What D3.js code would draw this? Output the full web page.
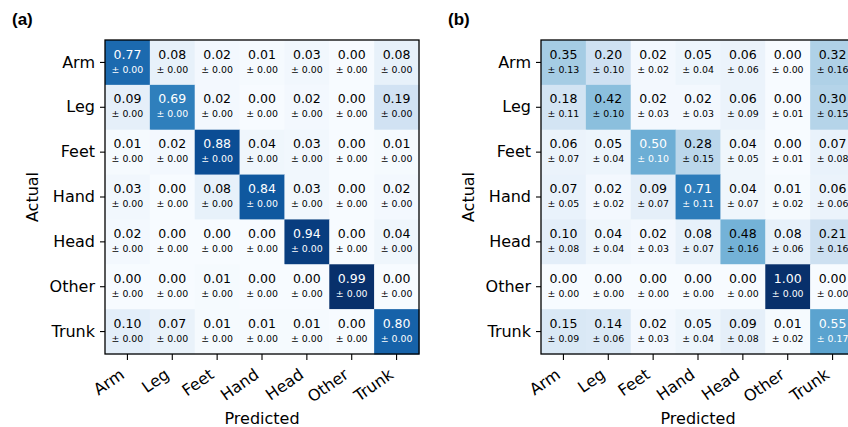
<!DOCTYPE html>
<html>
<head>
<meta charset="utf-8">
<script src="https://cdn.jsdelivr.net/npm/d3@7"></script>
<style>
  html, body { margin: 0; padding: 0; background: #fff; }
  svg { display: block; }
  text { font-family: "DejaVu Sans", sans-serif; }
</style>
</head>
<body>
<svg id="chart" width="848" height="427"></svg>
<script>
// Class labels shared by both confusion matrices
const classes = ["Arm", "Leg", "Feet", "Hand", "Head", "Other", "Trunk"];

// Panel (a): mean normalized confusion (rows = actual, columns = predicted)
const meanA = [
  [0.77, 0.08, 0.02, 0.01, 0.03, 0.00, 0.08],
  [0.09, 0.69, 0.02, 0.00, 0.02, 0.00, 0.19],
  [0.01, 0.02, 0.88, 0.04, 0.03, 0.00, 0.01],
  [0.03, 0.00, 0.08, 0.84, 0.03, 0.00, 0.02],
  [0.02, 0.00, 0.00, 0.00, 0.94, 0.00, 0.04],
  [0.00, 0.00, 0.01, 0.00, 0.00, 0.99, 0.00],
  [0.10, 0.07, 0.01, 0.01, 0.01, 0.00, 0.80]
];
const stdA = [
  [0.00, 0.00, 0.00, 0.00, 0.00, 0.00, 0.00],
  [0.00, 0.00, 0.00, 0.00, 0.00, 0.00, 0.00],
  [0.00, 0.00, 0.00, 0.00, 0.00, 0.00, 0.00],
  [0.00, 0.00, 0.00, 0.00, 0.00, 0.00, 0.00],
  [0.00, 0.00, 0.00, 0.00, 0.00, 0.00, 0.00],
  [0.00, 0.00, 0.00, 0.00, 0.00, 0.00, 0.00],
  [0.00, 0.00, 0.00, 0.00, 0.00, 0.00, 0.00]
];

// Panel (b): mean normalized confusion and its standard deviation
const meanB = [
  [0.35, 0.20, 0.02, 0.05, 0.06, 0.00, 0.32],
  [0.18, 0.42, 0.02, 0.02, 0.06, 0.00, 0.30],
  [0.06, 0.05, 0.50, 0.28, 0.04, 0.00, 0.07],
  [0.07, 0.02, 0.09, 0.71, 0.04, 0.01, 0.06],
  [0.10, 0.04, 0.02, 0.08, 0.48, 0.08, 0.21],
  [0.00, 0.00, 0.00, 0.00, 0.00, 1.00, 0.00],
  [0.15, 0.14, 0.02, 0.05, 0.09, 0.01, 0.55]
];
const stdB = [
  [0.13, 0.10, 0.02, 0.04, 0.06, 0.00, 0.16],
  [0.11, 0.10, 0.03, 0.03, 0.09, 0.01, 0.15],
  [0.07, 0.04, 0.10, 0.15, 0.05, 0.01, 0.08],
  [0.05, 0.02, 0.07, 0.11, 0.07, 0.02, 0.06],
  [0.08, 0.04, 0.03, 0.07, 0.16, 0.06, 0.16],
  [0.00, 0.00, 0.00, 0.00, 0.00, 0.00, 0.00],
  [0.09, 0.06, 0.03, 0.04, 0.08, 0.02, 0.17]
];

const panels = [
  { tag: "(a)", mean: meanA, std: stdA, left: 105 },
  { tag: "(b)", mean: meanB, std: stdB, left: 541 }
];

const svg = d3.select("#chart");
const gridTop = 40, gridSize = 314;

panels.forEach(p => {
  const g = svg.append("g");
  const x = d3.scaleBand().domain(classes).range([p.left, p.left + gridSize]);
  const y = d3.scaleBand().domain(classes).range([gridTop, gridTop + gridSize]);
  const vmax = d3.max(p.mean.flat());
  const color = d3.scaleSequential(d3.interpolateBlues).domain([0, vmax]);

  const cells = [];
  p.mean.forEach((row, i) => row.forEach((v, j) => {
    cells.push({ actual: classes[i], pred: classes[j], v, s: p.std[i][j] });
  }));

  g.selectAll("rect.cell").data(cells).join("rect")
    .attr("class", "cell")
    .attr("x", d => x(d.pred))
    .attr("y", d => y(d.actual))
    .attr("width", x.bandwidth() + 0.5)
    .attr("height", y.bandwidth() + 0.5)
    .attr("fill", d => color(d.v));

  const txt = g.selectAll("g.lbl").data(cells).join("g")
    .attr("class", "lbl")
    .attr("transform", d => `translate(${x(d.pred) + x.bandwidth() / 2},${y(d.actual) + y.bandwidth() / 2})`)
    .attr("fill", d => d.v >= vmax / 2 ? "#ffffff" : "#000000")
    .attr("text-anchor", "middle");
  txt.append("text")
    .attr("y", -8.2).attr("dy", "0.35em")
    .attr("font-size", 12.5)
    .text(d => d.v.toFixed(2));
  txt.append("text")
    .attr("y", 6.8).attr("dy", "0.35em")
    .attr("font-size", 9.4)
    .text(d => "\u00b1 " + d.s.toFixed(2));

  // frame
  g.append("rect")
    .attr("x", p.left).attr("y", gridTop)
    .attr("width", gridSize).attr("height", gridSize)
    .attr("fill", "none").attr("stroke", "#000").attr("stroke-width", 1.3);

  // axes
  const yAxis = g.append("g")
    .attr("transform", `translate(${p.left},0)`)
    .call(d3.axisLeft(y).tickSize(5).tickPadding(5));
  yAxis.select(".domain").remove();
  yAxis.selectAll("text").attr("font-size", 16).attr("fill", "#000")
    .style("font-family", "DejaVu Sans");
  yAxis.selectAll("line").attr("stroke", "#000").attr("stroke-width", 1.1);

  const xAxis = g.append("g")
    .attr("transform", `translate(0,${gridTop + gridSize})`)
    .call(d3.axisBottom(x).tickSize(6).tickPadding(4));
  xAxis.select(".domain").remove();
  xAxis.selectAll("line").attr("stroke", "#000").attr("stroke-width", 1.1);
  xAxis.selectAll("text")
    .attr("font-size", 16).attr("fill", "#000")
    .style("font-family", "DejaVu Sans")
    .attr("text-anchor", "end")
    .attr("dy", 0)
    .attr("y", 0).attr("x", 0)
    .attr("transform", "translate(-2,23) rotate(-35)");

  g.append("text")
    .attr("x", p.left + gridSize / 2).attr("y", 418)
    .attr("dy", "0.35em")
    .attr("text-anchor", "middle")
    .attr("font-size", 16)
    .text("Predicted");

  g.append("text")
    .attr("transform", `translate(${p.left - 73},${gridTop + gridSize / 2}) rotate(-90)`)
    .attr("dy", "0.35em")
    .attr("text-anchor", "middle")
    .attr("font-size", 16)
    .text("Actual");

  g.append("text")
    .attr("x", p.left - 93).attr("y", 25)
    .attr("font-size", 17)
    .attr("font-weight", "bold")
    .style("font-family", "Liberation Sans, Arial, sans-serif")
    .text(p.tag);
});
</script>
</body>
</html>
